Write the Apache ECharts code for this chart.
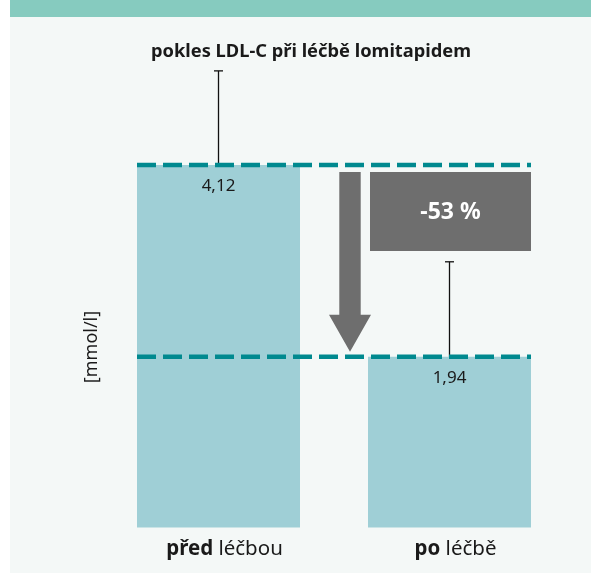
<!DOCTYPE html>
<html><head><meta charset="utf-8">
<script src="https://cdn.jsdelivr.net/npm/echarts@6/dist/echarts.min.js"></script>
<style>html,body{margin:0;padding:0;background:#ffffff}#c{width:591px;height:573px}</style>
</head><body><div id="c"></div>
<script>
const categories = ['před léčbou', 'po léčbě'];
const categoryBold = ['před', 'po'];
const categoryRest = [' léčbou', ' léčbě'];
const values = [4.12, 1.94];
const errorHigh = [5.19, 3.02];
const valueLabels = ['4,12', '1,94'];
const changeLabel = '-53 %';
const titleText = 'pokles LDL-C při léčbě lomitapidem';
const yName = '[mmol/l]';

const FONT = '"Noto Sans", sans-serif';
const BAR_W = 163;
const chart = echarts.init(document.getElementById('c'));

chart.setOption({
  backgroundColor: '#ffffff',
  animation: false,
  graphic: [
    { type: 'rect', z: -10, shape: { x: 10, y: 0, width: 581, height: 573 }, style: { fill: '#f4f8f7' } },
    { type: 'rect', z: -9, shape: { x: 10, y: 0, width: 581, height: 17 }, style: { fill: '#86cbbf' } },
    { type: 'text', z: 5, x: 92, y: 347, rotation: Math.PI / 2,
      style: { text: yName, textAlign: 'center', textVerticalAlign: 'middle', fill: '#1a1a1a', font: '18px ' + FONT } }
  ],
  title: {
    text: titleText, left: 306, top: 38, textAlign: 'center',
    textStyle: { fontFamily: FONT, fontSize: 18.3, fontWeight: 'bold', color: '#1a1a1a' }
  },
  grid: { left: 103, right: 26, top: 43.6, bottom: 45.5 },
  xAxis: {
    type: 'category', data: categories,
    axisLine: { show: false }, axisTick: { show: false },
    axisLabel: {
      margin: 11,
      padding: [0, 0, 0, 12],
      formatter: (v, i) => '{b|' + categoryBold[i] + '}{r|' + categoryRest[i] + '}',
      rich: {
        b: { fontFamily: FONT, fontSize: 20.5, fontWeight: 'bold', color: '#1a1a1a' },
        r: { fontFamily: FONT, fontSize: 20.5, color: '#1a1a1a' }
      }
    }
  },
  yAxis: {
    type: 'value', min: 0, max: 5.5,
    axisLine: { show: false }, axisTick: { show: false }, axisLabel: { show: false },
    splitLine: { show: false }
  },
  series: [
    {
      type: 'bar', data: values, barWidth: BAR_W, z: 1,
      itemStyle: { color: '#9fcfd6' },
      label: {
        show: true, position: 'insideTop', distance: 13,
        formatter: p => valueLabels[p.dataIndex],
        fontFamily: FONT, fontSize: 17, color: '#1a1a1a'
      }
    },
    {
      type: 'custom', z: 3, clip: false,
      data: values.map((v, i) => [i, v, errorHigh[i]]),
      renderItem: (params, api) => {
        const lo = api.coord([api.value(0), api.value(1)]);
        const hi = api.coord([api.value(0), api.value(2)]);
        const x = Math.round(lo[0]) - 0.5;
        return { type: 'group', children: [
          { type: 'line', shape: { x1: x, y1: lo[1], x2: x, y2: hi[1] }, style: { stroke: '#111', lineWidth: 1.3 } },
          { type: 'line', shape: { x1: x - 4.5, y1: hi[1], x2: x + 4.5, y2: hi[1] }, style: { stroke: '#111', lineWidth: 1.3 } }
        ]};
      }
    },
    {
      type: 'custom', z: 4, clip: false,
      data: values.map(v => [v]),
      renderItem: (params, api) => {
        const v = api.value(0);
        const a = api.coord([0, v]);
        const b = api.coord([1, v]);
        return { type: 'line', shape: { x1: a[0] - BAR_W / 2, y1: a[1], x2: b[0] + BAR_W / 2, y2: b[1] },
          style: { stroke: '#00898f', lineWidth: 4.5, lineDash: [19, 7] } };
      }
    },
    {
      type: 'custom', z: 2, clip: false,
      data: [[values[0], values[1]]],
      renderItem: (params, api) => {
        const top = api.coord([0, api.value(0)]);
        const bot = api.coord([1, api.value(1)]);
        const cx = (top[0] + bot[0]) / 2 + 16;
        const y0 = top[1] + 7, tip = bot[1] - 5, headTop = tip - 37;
        const sw = 10.7, hw = 21;
        const arrow = { type: 'polygon', shape: { points: [
          [cx - sw, y0], [cx + sw, y0], [cx + sw, headTop], [cx + hw, headTop],
          [cx, tip], [cx - hw, headTop], [cx - sw, headTop]
        ] }, style: { fill: '#6e6e6e' } };
        const bx = bot[0] - BAR_W / 2 + 2;
        const box = { type: 'rect', shape: { x: bx, y: y0, width: BAR_W - 2, height: 79 },
          style: { fill: '#6e6e6e' } };
        const txt = { type: 'text', style: { text: changeLabel, x: bx + (BAR_W - 2) / 2, y: y0 + 40,
          textAlign: 'center', textVerticalAlign: 'middle', fill: '#ffffff',
          font: 'bold 23px ' + FONT } };
        return { type: 'group', children: [arrow, box, txt] };
      }
    }
  ]
});
</script></body></html>
